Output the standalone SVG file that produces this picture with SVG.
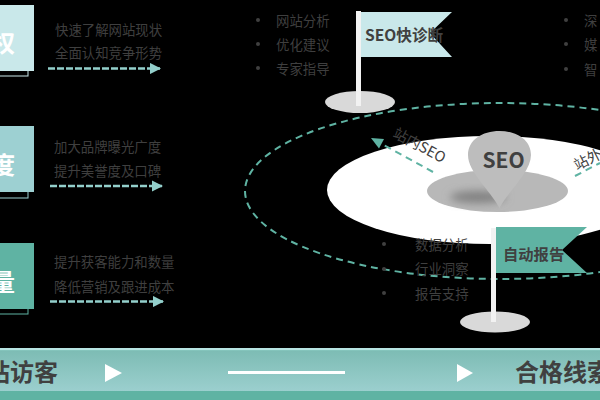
<svg xmlns="http://www.w3.org/2000/svg" width="600" height="400" viewBox="0 0 600 400">
  <style>
    .dim { font-family: "Noto Sans CJK SC", "Liberation Sans", sans-serif; font-size: 13.4px; fill: #3f3f3f; }
    .tag { font-family: "Noto Sans CJK SC", "Liberation Sans", sans-serif; font-size: 14.5px; fill: #404040; }
    .bold { font-family: "Noto Sans CJK SC", "Liberation Sans", sans-serif; font-weight: 700; fill: #404040; }
    .tile { font-family: "Noto Sans CJK SC", "Liberation Sans", sans-serif; font-weight: 700; font-size: 24px; fill: #ffffff; }
    .flow { fill: none; stroke: #93cfcb; stroke-width: 2.500; stroke-dasharray: 7 2; }
    .orbit { fill: none; stroke: #5fb3a3; stroke-width: 2; stroke-dasharray: 7 5; }
    .dot { fill: #404040; }
    .base { fill: #d9d9d9; }
    .pole { fill: #f2f2f2; }
  </style>
  <defs>
    <linearGradient id="barFill" x1="0" y1="0" x2="0" y2="1">
      <stop offset="0" stop-color="#7dbcb4"/>
      <stop offset="1" stop-color="#9bcfce"/>
    </linearGradient>
    <filter id="soft" x="-30%" y="-60%" width="160%" height="220%">
      <feGaussianBlur stdDeviation="4"/>
    </filter>
    <marker id="flowHead" viewBox="0 0 10 10" refX="9" refY="5" markerWidth="4.600" markerHeight="4.600" orient="auto">
      <path d="M0 0L10 5L0 10Z" fill="#93cfcb"/>
    </marker>
  </defs>
  <rect width="600" height="400" fill="#000000"/>

  <g id="card-authority">
    <rect x="-10" y="10" width="38" height="66" fill="none" stroke="#c9e8ea"/>
    <rect x="-10" y="5" width="44" height="66" fill="#c9e8ea"/>
    <text class="tile" x="-9" y="52">权</text>
    <text class="dim" x="55" y="35">快速了解网站现状</text>
    <text class="dim" x="55" y="58">全面认知竞争形势</text>
  </g>
  <g id="card-reputation">
    <rect x="-10" y="132" width="38" height="66" fill="none" stroke="#9dd0d2"/>
    <rect x="-10" y="126" width="44" height="66" fill="#9dd0d2"/>
    <text class="tile" x="-9" y="174">度</text>
    <text class="dim" x="54" y="152">加大品牌曝光广度</text>
    <text class="dim" x="54" y="176">提升美誉度及口碑</text>
  </g>
  <g id="card-volume">
    <rect x="-10" y="249" width="38" height="65" fill="none" stroke="#5fb3a3"/>
    <rect x="-10" y="243" width="44" height="66" fill="#5fb3a3"/>
    <text class="tile" x="-9" y="291">量</text>
    <text class="dim" x="54" y="267">提升获客能力和数量</text>
    <text class="dim" x="54" y="292">降低营销及跟进成本</text>
  </g>

  <g id="orbit-disc">
    <ellipse cx="490" cy="190" rx="163" ry="54" fill="#ffffff"/>
  </g>

  <g id="connectors">
    <path class="flow" d="M48 68.500H160" marker-end="url(#flowHead)"/>
    <path class="flow" d="M50 186H162" marker-end="url(#flowHead)"/>
    <path class="flow" d="M50 301.500H163" marker-end="url(#flowHead)"/>
    <ellipse class="orbit" cx="500" cy="191" rx="255" ry="88"/>
    <path class="orbit" d="M433 172L380 143"/>
    <polygon points="371,138 384,139 379,148.500" fill="#5fb3a3"/>
    <path class="orbit" d="M575 176L600 163"/>
  </g>

  <g id="pin-seo">
    <ellipse cx="497.500" cy="191" rx="70.500" ry="21" fill="#b8b8b8"/>
    <ellipse cx="478" cy="197" rx="28" ry="6" fill="#808080" filter="url(#soft)"/>
    <path d="M499.500 208C490 190 468 172 468 155C468 140 482 131 499.500 131C517 131 531 140 531 155C531 172 509 190 499.500 208Z" fill="#bdbdbd"/>
    <text class="bold" x="503.500" y="167.500" font-size="21" text-anchor="middle">SEO</text>
  </g>

  <g id="label-inner">
    <text class="tag" transform="translate(392 136.500) rotate(28)">站内SEO</text>
  </g>
  <g id="label-outer">
    <text class="tag" transform="translate(577 170.500) rotate(-27)">站外</text>
  </g>

  <g id="flag-diagnosis">
    <ellipse class="base" cx="360" cy="102" rx="35" ry="11"/>
    <polygon points="361,12 452,12 430,33 452,57 361,57" fill="#c9e8ea"/>
    <rect class="pole" x="356" y="11" width="5" height="95"/>
    <text class="bold" x="365" y="41" font-size="15.600">SEO快诊断</text>
  </g>
  <g id="list-diagnosis">
    <circle class="dot" cx="258" cy="20" r="2"/>
    <circle class="dot" cx="258" cy="44" r="2"/>
    <circle class="dot" cx="258" cy="68" r="2"/>
    <text class="dim" x="276" y="26">网站分析</text>
    <text class="dim" x="276" y="50">优化建议</text>
    <text class="dim" x="276" y="74">专家指导</text>
  </g>
  <g id="list-depth">
    <circle class="dot" cx="566" cy="20" r="2"/>
    <circle class="dot" cx="566" cy="44" r="2"/>
    <circle class="dot" cx="566" cy="69" r="2"/>
    <text class="dim" x="584" y="26">深</text>
    <text class="dim" x="584" y="50">媒</text>
    <text class="dim" x="584" y="75">智</text>
  </g>

  <g id="flag-report">
    <ellipse class="base" cx="495" cy="322" rx="35" ry="10.500"/>
    <polygon points="496,227 587,227 562,250 587,273 496,273" fill="#5fb3a3"/>
    <rect class="pole" x="491" y="228" width="5" height="94"/>
    <text class="bold" x="503" y="260" font-size="15.300">自动报告</text>
  </g>
  <g id="list-report">
    <circle class="dot" cx="384" cy="244" r="2"/>
    <circle class="dot" cx="384" cy="269" r="2"/>
    <circle class="dot" cx="384" cy="293" r="2"/>
    <text class="dim" x="415" y="250">数据分析</text>
    <text class="dim" x="415" y="274">行业洞察</text>
    <text class="dim" x="415" y="299">报告支持</text>
  </g>

  <g id="funnel-bar">
    <rect x="0" y="348" width="600" height="52" fill="#5fb3a3"/>
    <rect x="0" y="348" width="600" height="2.500" fill="#b8e5e3"/>
    <rect x="0" y="350.500" width="600" height="40.500" fill="url(#barFill)"/>
    <text class="bold" x="58" y="381" font-size="24" text-anchor="end">站访客</text>
    <polygon points="105,364 122,373 105,382" fill="#ffffff"/>
    <rect x="228" y="371" width="117" height="3" fill="#ffffff"/>
    <polygon points="457,364 473,373 457,382" fill="#ffffff"/>
    <text class="bold" x="515" y="381" font-size="24">合格线索</text>
  </g>
</svg>
